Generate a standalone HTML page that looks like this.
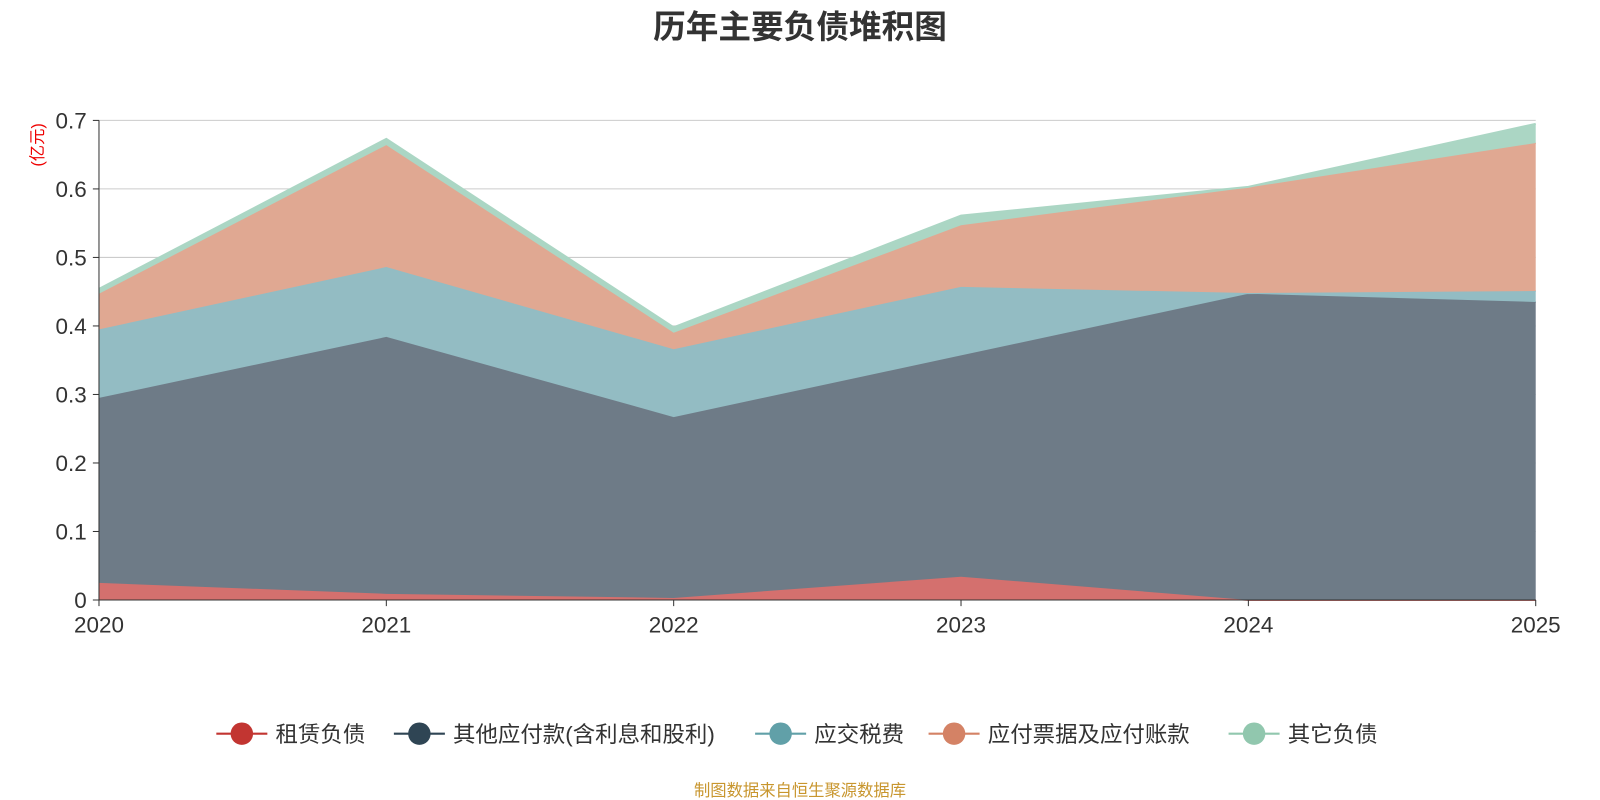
<!DOCTYPE html>
<html><head><meta charset="utf-8"><style>
html,body{margin:0;padding:0;background:#fff;overflow:hidden;font-family:"Liberation Sans","Noto Sans CJK SC",sans-serif;}
svg{display:block;}
svg text{font-family:"Liberation Sans","Noto Sans CJK SC",sans-serif;}
</style></head><body>
<svg id="c" width="1600" height="800" viewBox="0 0 1568 784"></svg>
<script>
const years=["2020","2021","2022","2023","2024","2025"];
const lease=[0.025,0.009,0.003,0.034,0.0,0.0];
const otherPayables=[0.270,0.375,0.264,0.323,0.447,0.435];
const taxes=[0.100,0.102,0.099,0.100,0.001,0.016];
const accountsPayable=[0.052,0.178,0.024,0.090,0.154,0.216];
const otherLiab=[0.007,0.009,0.008,0.014,0.001,0.028];
const yTicks=[0,0.1,0.2,0.3,0.4,0.5,0.6,0.7];
const seriesNames=["租赁负债","其他应付款(含利息和股利)","应交税费","应付票据及应付账款","其它负债"];
const seriesData=[lease,otherPayables,taxes,accountsPayable,otherLiab];
const lineColors=["#c23531","#2f4554","#61a0a8","#d48265","#91c7ae"];
const fillColors=["#d4706e","#6e7b87","#93bcc3","#e0a892","#abd6c4"];
const NS="http://www.w3.org/2000/svg",svg=document.getElementById('c');
const x0=97,x1=1505,y0=588,yTop=118,ymax=0.7;
const X=i=>x0+(x1-x0)*i/(years.length-1);
const Y=v=>y0-(y0-yTop)*v/ymax;
function el(t,a,p){const e=document.createElementNS(NS,t);for(const k in a)e.setAttribute(k,a[k]);(p||svg).appendChild(e);return e;}
let t=el('text',{x:784,y:37,'text-anchor':'middle','font-size':32,'font-weight':'bold',fill:'#333'});t.textContent='历年主要负债堆积图';


yTicks.forEach(v=>{
 const g=el('line',{x1:x0,x2:x1,y1:Y(v),y2:Y(v),stroke:'#ccc','stroke-width':1});
 
 
 const tk=el('line',{x1:x0-6,x2:x0,y1:Y(v),y2:Y(v),stroke:'#333'});
 
 
 const l=el('text',{x:x0-12,y:Y(v)+8,'text-anchor':'end','font-size':22,fill:'#333'});l.textContent=String(v);
 
 
});
t=el('text',{x:42,y:142,'font-size':16,fill:'#e00','text-anchor':'middle',transform:'rotate(-90 42 142)'});t.textContent='(亿元)';


let cum=years.map(()=>0);
seriesData.forEach((s,si)=>{
 const lo=cum.slice();cum=cum.map((c,i)=>c+s[i]);
 let d='M'+years.map((_,i)=>X(i)+','+Y(cum[i])).join('L');
 for(let i=years.length-1;i>=0;i--)d+='L'+X(i)+','+Y(lo[i]);
 const a=el('path',{d:d+'Z',fill:fillColors[si]});
 
 
 const ln=el('polyline',{points:years.map((_,i)=>X(i)+','+Y(cum[i])).join(' '),fill:'none',stroke:fillColors[si],'stroke-width':2});
 
 
});
let ax=el('line',{x1:x0,x2:x0,y1:yTop,y2:y0,stroke:'#333'});


ax=el('line',{x1:x0,x2:x1,y1:y0,y2:y0,stroke:'#333'});


years.forEach((yr,i)=>{
 const tk=el('line',{x1:X(i),x2:X(i),y1:y0,y2:y0+6,stroke:'#333'});
 
 
 const l=el('text',{x:X(i),y:620,'text-anchor':'middle','font-size':22,fill:'#333'});l.textContent=yr;
 
 
});
const legX=[212,386,740,910,1204];
seriesNames.forEach((n,i)=>{
 const g=el('g',{});
 
 
 const lx=legX[i];
 el('line',{x1:lx,x2:lx+50,y1:719,y2:719,stroke:lineColors[i],'stroke-width':2},g);
 el('circle',{cx:lx+25,cy:719,r:11,fill:lineColors[i]},g);
 const tt=el('text',{x:lx+58,y:727,'font-size':22,fill:'#333'},g);tt.textContent=n;
});
t=el('text',{x:784,y:780,'text-anchor':'middle','font-size':16,fill:'#c8962e'});t.textContent='制图数据来自恒生聚源数据库';


</script></body></html>
